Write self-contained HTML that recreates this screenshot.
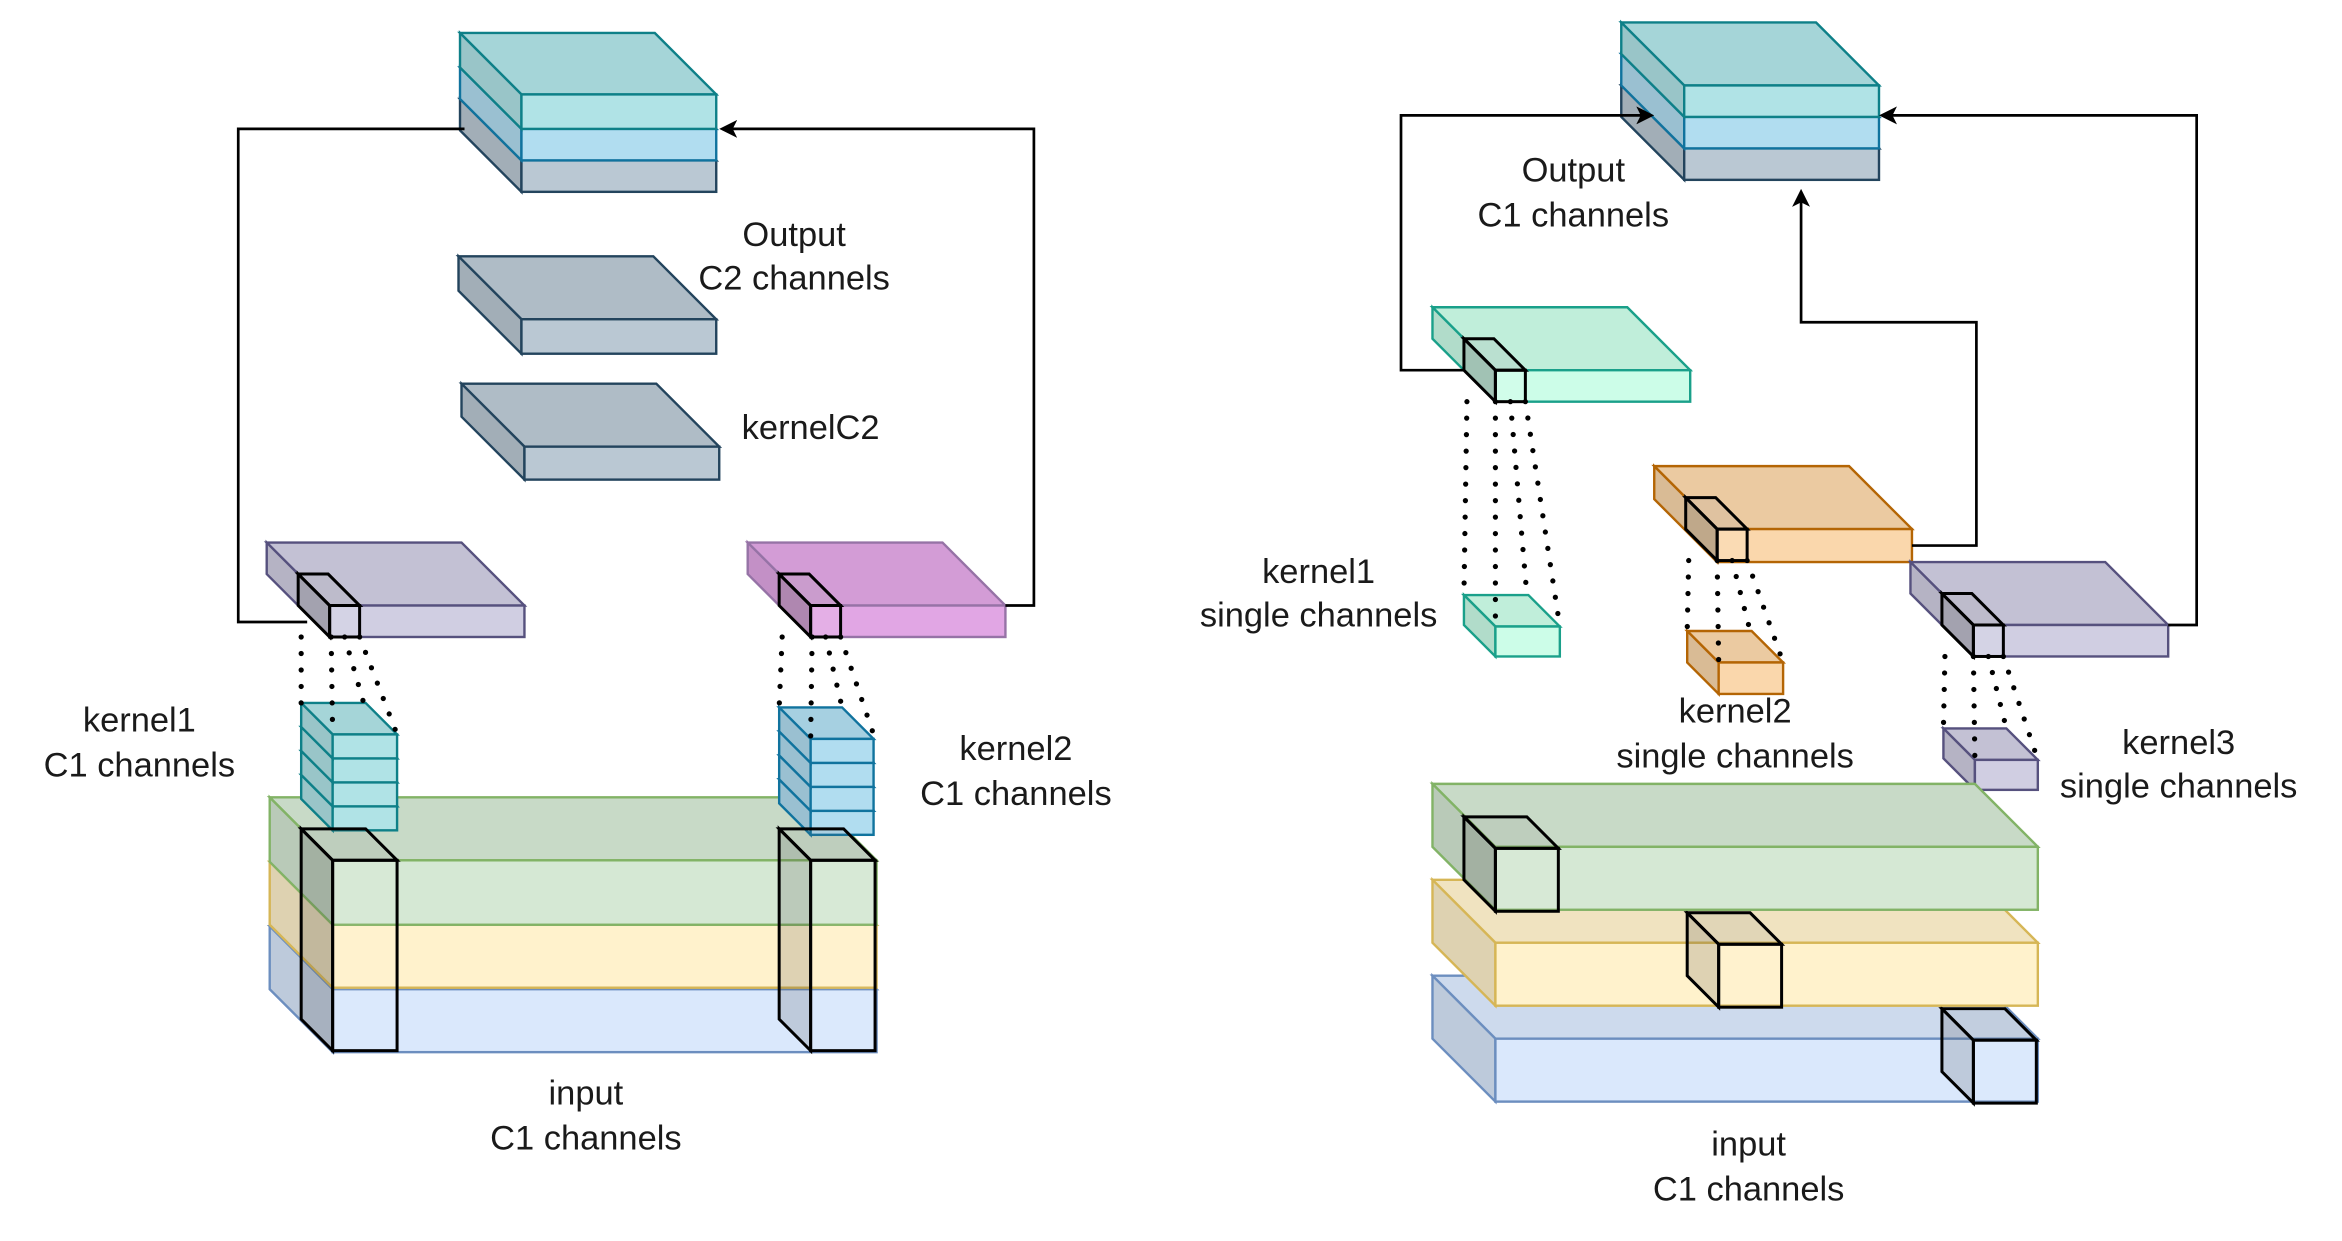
<!DOCTYPE html>
<html><head><meta charset="utf-8"><style>
html,body{margin:0;padding:0;background:#fff;}
svg{display:block;}
text{font-family:"Liberation Sans",Arial,sans-serif;font-size:23px;fill:#1a1a1a;text-anchor:middle;}
</style></head><body>
<svg id="s" width="2342" height="1241" viewBox="0 0 1563 828" preserveAspectRatio="none" xmlns="http://www.w3.org/2000/svg">
<defs><marker id="ar" markerWidth="12" markerHeight="12" refX="10" refY="6" orient="auto" markerUnits="userSpaceOnUse"><path d="M0,0 L12,6 L0,12 L3,6 Z" fill="#000"/></marker></defs>
<rect width="1563" height="828" fill="#fff"/>
<g id="boxes"></g>
<g fill="none" stroke="#000" stroke-width="1.8">
<polyline points="310,86 159,86 159,415 205,415"/>
<polyline points="671,404 690,404 690,86 482,86" marker-end="url(#ar)"/>
<polyline points="977,247 935,247 935,77 1102,77" marker-end="url(#ar)"/>
<polyline points="1276,364 1319,364 1319,215 1202,215 1202,128" marker-end="url(#ar)"/>
<polyline points="1447,417 1466,417 1466,77 1256,77" marker-end="url(#ar)"/>
</g>
<g id="dots" stroke="#000" stroke-width="3.5" stroke-linecap="round" stroke-dasharray="0 11" fill="none"></g>
<text x="530" y="164">Output</text><text x="530" y="193">C2 channels</text>
<text x="541" y="293">kernelC2</text>
<text x="93" y="488">kernel1</text><text x="93" y="518">C1 channels</text>
<text x="678" y="507">kernel2</text><text x="678" y="537">C1 channels</text>
<text x="391" y="737">input</text><text x="391" y="767">C1 channels</text>
<text x="1050" y="121">Output</text><text x="1050" y="151">C1 channels</text>
<text x="880" y="389">kernel1</text><text x="880" y="418">single channels</text>
<text x="1158" y="482">kernel2</text><text x="1158" y="512">single channels</text>
<text x="1454" y="503">kernel3</text><text x="1454" y="532">single channels</text>
<text x="1167" y="771">input</text><text x="1167" y="801">C1 channels</text>
</svg>
<script>
var NS="http://www.w3.org/2000/svg",G=document.getElementById("boxes");
function el(t,a){var e=document.createElementNS(NS,t);for(var k in a)e.setAttribute(k,a[k]);G.appendChild(e);return e;}
function box(x,y,w,d,h,f,s,sw,op){
 sw=sw||1.6; var fo=op===undefined?1:op;
 var top=[x,y,x+w,y,x+w+d,y+d,x+d,y+d].join(" ");
 var side=[x,y,x+d,y+d,x+d,y+d+h,x,y+h].join(" ");
 el("polygon",{points:top,fill:f,"fill-opacity":fo,stroke:"none"});
 el("polygon",{points:top,fill:"#000","fill-opacity":0.06,stroke:s,"stroke-width":sw});
 el("polygon",{points:side,fill:f,"fill-opacity":fo,stroke:"none"});
 el("polygon",{points:side,fill:"#000","fill-opacity":0.13,stroke:s,"stroke-width":sw});
 el("rect",{x:x+d,y:y+d,width:w,height:h,fill:f,"fill-opacity":fo,stroke:s,"stroke-width":sw});
}
var T=["#b0e3e6","#0e8088"],B=["#b1ddf0","#10739e"],GR=["#bac8d3","#23445d"];
var P=["#d0cee2","#56517e"],M=["#e1a6e4","#9673a6"],TG=["#ccfde8","#1aa08a"],O=["#fad7ac","#b46504"];
var GN=["#d5e8d4","#82b366"],Y=["#fff2cc","#d6b656"],BL=["#dae8fc","#6c8ebf"];
function b(a,c,sw,op){box(a[0],a[1],a[2],a[3],a[4],c[0],c[1],sw,op);}
function k(x,y){box(x,y,20,21,21,"#fff","#000",2,0.1);}
// left output
b([307,66,130,41,21],GR);b([307,45,130,41,21],B);b([307,22,130,41,23],T);
b([306,171,130,42,23],GR);b([308,256,130,42,22],GR);
b([178,362,130,42,21],P);k(199,383);
b([499,362,130,42,21],M);k(520,383);
// left input
b([180,618,363,42,42],BL);b([180,575,363,42,42],Y);b([180,532,363,42,43],GN);
// left kernel stacks
for(var i=3;i>=0;i--)b([201,469+16*i,43,21,16],T);
for(var i=3;i>=0;i--)b([520,472+16*i,42,21,16],B);
box(201,553,43,21,127,"#fff","#000",2,0.05);
box(520,553,43,21,127,"#fff","#000",2,0.05);
// right output
b([1082,57,130,42,21],GR);b([1082,36,130,42,21],B);b([1082,15,130,42,21],T);
b([956,205,130,42,21],TG);k(977,226);
b([977,397,43,21,20],TG);
b([1104,311,130,42,22],O);k(1125,332);
b([1126,421,43,21,21],O);
b([1275,375,130,42,21],P);k(1296,396);
b([1297,486,42,21,20],P);
// right input
b([956,651,362,42,42],BL);box(1296,673,42,21,42,"#fff","#000",2,0.05);
b([956,587,362,42,42],Y);box(1126,609,42,21,42,"#fff","#000",2,0.05);
b([956,523,362,42,42],GN);box(977,545,42,21,42,"#fff","#000",2,0.05);
// dots
var D=document.getElementById("dots");
[[201,425,201,470],[221,425,222,490],[230,425,243,470],[240,425,265,490],
 [522,425,520,472],[542,425,541,493],[551,425,562,472],[561,425,584,493],
 [979,268,977,397],[998,268,998,418],[1008,268,1019,397],[1018,268,1041,418],
 [1127,374,1126,421],[1146,374,1147,442],[1156,374,1168,421],[1166,374,1190,442],
 [1298,438,1297,486],[1317,438,1318,507],[1327,438,1339,486],[1337,438,1360,507]].forEach(function(a){
 var l=document.createElementNS(NS,"line");l.setAttribute("x1",a[0]);l.setAttribute("y1",a[1]);l.setAttribute("x2",a[2]);l.setAttribute("y2",a[3]);D.appendChild(l);});
</script>
</body></html>
